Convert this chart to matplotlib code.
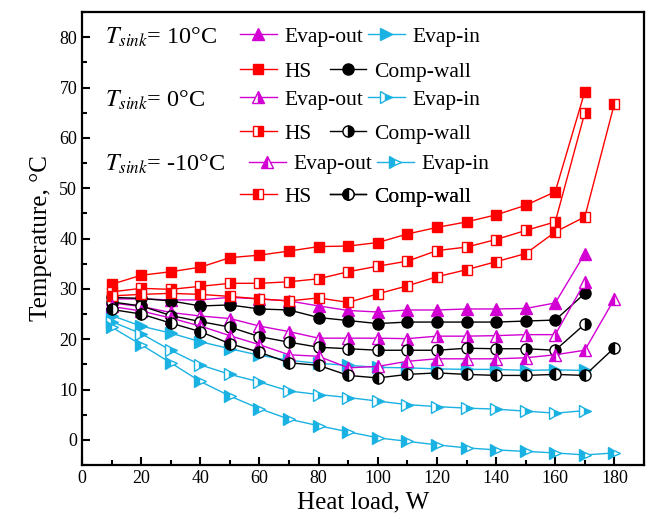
import matplotlib
matplotlib.use("Agg")
import matplotlib.pyplot as plt
from matplotlib.ticker import MultipleLocator

plt.rcParams["font.family"] = ["Liberation Serif", "DejaVu Serif"]
plt.rcParams["mathtext.fontset"] = "stix"

# heat load, W
load_17 = [10, 20, 30, 40, 50, 60, 70, 80, 90, 100, 110, 120, 130, 140, 150, 160, 170]
load_18 = [10, 20, 30, 40, 50, 60, 70, 80, 90, 100, 110, 120, 130, 140, 150, 160, 170, 180]

# T_sink = 10 C
hs_10 = [30.9, 32.7, 33.4, 34.3, 36.2, 36.7, 37.5, 38.4, 38.5, 39.2, 40.9, 42.2, 43.3, 44.7, 46.6, 49.3, 69.2]
evap_out_10 = [28.0, 28.0, 27.8, 27.8, 28.3, 28.0, 27.6, 26.6, 25.7, 25.4, 25.8, 25.8, 26.0, 26.0, 26.1, 27.2, 37.0]
comp_10 = [28.3, 28.1, 27.6, 26.6, 26.8, 26.0, 25.8, 24.3, 23.7, 23.1, 23.4, 23.4, 23.4, 23.4, 23.6, 23.8, 29.1]
evap_in_10 = [24.7, 22.6, 21.2, 19.5, 18.1, 16.8, 15.8, 15.2, 14.8, 14.4, 14.3, 14.1, 14.0, 14.0, 13.8, 13.9, 13.8]

# T_sink = 0 C
hs_0 = [29.4, 30.1, 29.9, 30.5, 31.1, 31.1, 31.4, 32.0, 33.4, 34.5, 35.5, 37.6, 38.3, 39.8, 41.6, 43.3, 65.0]
evap_out_0 = [27.2, 26.5, 25.3, 24.6, 24.1, 22.6, 21.5, 20.2, 20.2, 20.2, 20.1, 20.6, 20.6, 20.7, 20.9, 20.9, 31.3]
comp_0 = [27.4, 26.6, 24.7, 23.5, 22.4, 20.5, 19.4, 18.4, 18.1, 17.8, 17.8, 17.8, 18.2, 18.1, 18.1, 17.8, 23.0]
evap_in_0 = [23.5, 21.1, 17.8, 14.9, 13.0, 11.5, 9.7, 9.0, 8.4, 7.7, 7.0, 6.6, 6.3, 6.1, 5.7, 5.3, 5.8]

# T_sink = -10 C
hs_m10 = [28.6, 28.9, 29.1, 28.9, 28.5, 28.0, 27.6, 28.2, 27.3, 29.0, 30.6, 32.4, 33.8, 35.4, 37.0, 41.3, 44.3, 66.8]
evap_out_m10 = [26.5, 25.6, 24.2, 22.6, 20.7, 18.9, 16.9, 16.6, 14.3, 14.6, 15.6, 16.1, 16.1, 16.1, 16.3, 16.9, 17.8, 28.0]
comp_m10 = [25.9, 25.0, 23.2, 21.5, 19.1, 17.4, 15.3, 14.8, 12.8, 12.3, 13.0, 13.3, 13.0, 12.8, 12.8, 13.0, 12.8, 18.3]
evap_in_m10 = [22.4, 18.9, 15.3, 11.6, 8.7, 6.2, 4.1, 2.8, 1.6, 0.4, -0.3, -1.0, -1.6, -2.0, -2.3, -2.6, -3.0, -2.6]

RED = "#ff0000"
MAG = "#d200d2"
CYAN = "#1ab2e2"
BLACK = "#000000"

# (x, y, label, color, marker, size, fillstyle)
series = [
    (load_17, hs_10, "HS", RED, "s", 7, "full"),
    (load_17, evap_out_10, "Evap-out", MAG, "^", 8, "full"),
    (load_17, comp_10, "Comp-wall", BLACK, "o", 8, "full"),
    (load_17, evap_in_10, "Evap-in", CYAN, ">", 8, "full"),
    (load_17, hs_0, "HS", RED, "s", 7, "right"),
    (load_17, evap_out_0, "Evap-out", MAG, "^", 8, "right"),
    (load_17, comp_0, "Comp-wall", BLACK, "o", 8, "right"),
    (load_17, evap_in_0, "Evap-in", CYAN, ">", 8, "right"),
    (load_18, hs_m10, "HS", RED, "s", 7, "left"),
    (load_18, evap_out_m10, "Evap-out", MAG, "^", 8, "left"),
    (load_18, comp_m10, "Comp-wall", BLACK, "o", 8, "left"),
    (load_18, evap_in_m10, "Evap-in", CYAN, ">", 8, "left"),
]

fig = plt.figure(figsize=(6.52, 5.23), dpi=100)
ax = fig.add_axes([0.1258, 0.1109, 0.8619, 0.8661])

handles = []
for x, y, label, color, marker, size, fs in series:
    line, = ax.plot(x, y, color=color, linewidth=1.0, marker=marker,
                    markersize=size, fillstyle=fs, markerfacecolor=color,
                    markerfacecoloralt="white", markeredgecolor=color,
                    markeredgewidth=1.0)
    handles.append((line, label))

ax.set_xlim(0, 190)
ax.set_ylim(-5, 85)
ax.set_xticks(range(0, 181, 20))
ax.xaxis.set_minor_locator(MultipleLocator(10))
ax.yaxis.set_major_locator(MultipleLocator(10))
ax.yaxis.set_minor_locator(MultipleLocator(5))
ax.tick_params(which="both", direction="in", width=1.5, labelsize=13,
               top=False, right=False)
ax.tick_params(which="major", length=6)
ax.tick_params(which="minor", length=3.5)
for sp in ax.spines.values():
    sp.set_linewidth(1.6)

ax.set_xlabel("Heat load, W", fontsize=18, labelpad=3)
ax.set_ylabel("Temperature, \u00b0C", fontsize=18, labelpad=5)

# legend block, one entry at a time
by_key = {}
for i, (line, label) in enumerate(handles):
    by_key[(i // 4, label)] = line

entries = [
    # (group, label, x_axes, y_axes)
    (0, "Evap-out", 0.281, 0.945), (0, "Evap-in", 0.509, 0.945),
    (0, "HS", 0.281, 0.868), (0, "Comp-wall", 0.441, 0.868),
    (1, "Evap-out", 0.281, 0.806), (1, "Evap-in", 0.509, 0.806),
    (1, "HS", 0.281, 0.731), (1, "Comp-wall", 0.441, 0.731),
    (2, "Evap-out", 0.297, 0.664), (2, "Evap-in", 0.525, 0.664),
    (2, "HS", 0.281, 0.592), (2, "Comp-wall", 0.441, 0.592),
]
for grp, label, lx, ly in entries:
    h = by_key[(grp, label)]
    leg = ax.legend([h], [label], loc="center left", bbox_to_anchor=(lx, ly),
                    frameon=False, fontsize=15.5, handlelength=1.7,
                    handletextpad=0.35, borderpad=0, borderaxespad=0)
    ax.add_artist(leg)

sinks = ["10\u00b0C", "0\u00b0C", "-10\u00b0C"]
for s, ty in zip(sinks, [0.945, 0.806, 0.664]):
    ax.text(0.041, ty, r"$T_{sink}$= " + s, transform=ax.transAxes,
            fontsize=17.5, va="center", ha="left")

fig.savefig("out.png", dpi=100)
